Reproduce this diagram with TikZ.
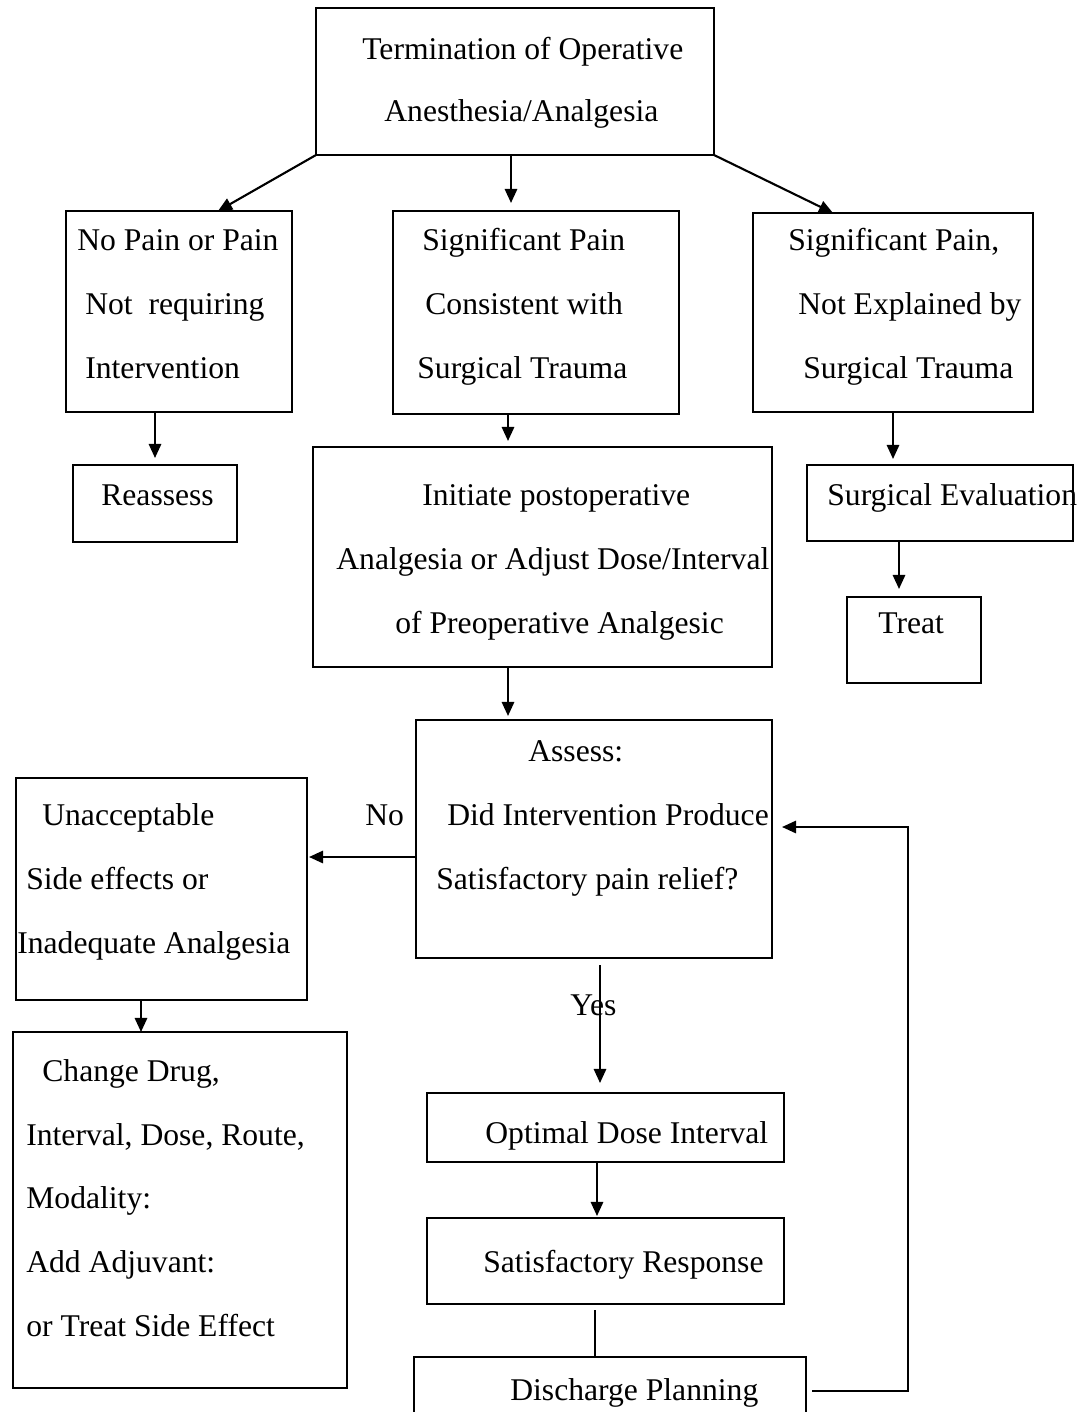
\documentclass[tikz,border=0pt]{standalone}
\usepackage{fontspec}
\setmainfont{Liberation Serif}
\usetikzlibrary{arrows.meta,calc}
\newdimen\px \px=0.02cm
\newcommand{\bx}[5]{%
  \node[boxnode, minimum width={(#4-#2)*\px}, minimum height={(#5-#3)*\px}] (#1) at ({(#2+#4)/2},{(#3+#5)/2}) {};}
\begin{document}
\begin{tikzpicture}[x=0.02cm, y=-0.02cm,
  boxnode/.style={draw=black, line width=1.1pt, inner sep=0pt, outer sep=0pt, rectangle},
  txt/.style={anchor=base west, inner sep=0pt, font=\fontsize{18}{21.6}\selectfont},
  arr/.style={line width=1.2pt, -{Triangle[length=8pt,width=7pt]}},
  plain/.style={line width=1.2pt}]
\clip (0,0) rectangle (1081,1412);
\fill[white] (0,0) rectangle (1081,1412);
% boxes
\bx{top}{316}{8}{714}{155}
\bx{L1}{66}{211}{292}{412}
\bx{M1}{393}{211}{679}{414}
\bx{R1}{753}{213}{1033}{412}
\bx{Re}{73}{465}{237}{542}
\bx{In}{313}{447}{772}{667}
\bx{SE}{807}{465}{1073}{541}
\bx{Tr}{847}{597}{981}{683}
\bx{As}{416}{720}{772}{958}
\bx{Un}{16}{778}{307}{1000}
\bx{CD}{13}{1032}{347}{1388}
\bx{Op}{427}{1093}{784}{1162}
\bx{Sa}{427}{1218}{784}{1304}
\bx{Dc}{414}{1357}{806}{1425}
% texts
\node[txt] (t1) at (362,60) {Termination of Operative};
\node[txt] (t2) at (384,122) {Anesthesia/Analgesia};
\node[txt] (l1a) at (77,251) {No Pain or Pain};
\node[txt] (l1b) at (85,315) {Not\ \ requiring};
\node[txt] (l1c) at (85,378) {Intervention};
\node[txt] (m1a) at (422,251) {Significant Pain};
\node[txt] (m1b) at (425,315) {Consistent with};
\node[txt] (m1c) at (417,378) {Surgical Trauma};
\node[txt] (r1a) at (788,251) {Significant Pain,};
\node[txt] (r1b) at (798,315) {Not Explained by};
\node[txt] (r1c) at (803,378) {Surgical Trauma};
\node[txt] (ret) at (101,505) {Reassess};
\node[txt] (ina) at (422,505) {Initiate postoperative};
\node[txt] (inb) at (336,569) {Analgesia or Adjust Dose/Interval};
\node[txt] (inc) at (395,633) {of Preoperative Analgesic};
\node[txt] (set) at (827,505) {Surgical Evaluation};
\node[txt] (trt) at (878,633) {Treat};
\node[txt] (asa) at (528,761) {Assess:};
\node[txt] (asb) at (447,825) {Did Intervention Produce};
\node[txt] (asc) at (436,889) {Satisfactory pain relief?};
\node[txt] (no) at (365,825) {No};
\node[txt] (una) at (42,825) {Unacceptable};
\node[txt] (unb) at (26,889) {Side effects or};
\node[txt] (unc) at (17,953) {Inadequate Analgesia};
\node[txt] (cda) at (42,1081) {Change Drug,};
\node[txt] (cdb) at (26,1145) {Interval, Dose, Route,};
\node[txt] (cdc) at (26,1208) {Modality:};
\node[txt] (cdd) at (26,1272) {Add Adjuvant:};
\node[txt] (cde) at (26,1336) {or Treat Side Effect};
\node[txt] (opt) at (485,1143) {Optimal Dose Interval};
\node[txt] (sat) at (483,1272) {Satisfactory Response};
\node[txt] (dct) at (510,1400) {Discharge Planning};
\node[txt] (yes) at (570,1015) {Yes};
% connectors
\draw[arr] (top.south west) -- ([xshift=152\px]L1.north west);
\draw[arr, shorten >=8\px] ([xshift=-4\px]top.south) -- ([xshift=-25\px]M1.north);
\draw[arr] (top.south east) -- ([xshift=80\px]R1.north west);
\draw[arr, shorten >=7\px] (Re.north |- L1.south) -- (Re.north);
\draw[arr, shorten >=6\px] ([xshift=-28\px]M1.south) -- ([xshift=-34.5\px]In.north);
\draw[arr, shorten >=6\px] (R1.south) -- (R1.south |- SE.north);
\draw[arr, shorten >=8\px] ([xshift=-41\px]SE.south) -- ([xshift=-15\px]Tr.north);
\draw[arr, shorten >=4\px] ([xshift=-34.5\px]In.south) -- ([xshift=-86\px]As.north);
\draw[arr, shorten >=2\px] ([yshift=-18\px]As.west) -- ([yshift=32\px]Un.east);
\draw[arr] ([xshift=-20.5\px]Un.south) -- ([xshift=-39\px]CD.north);
\draw[arr, shorten >=10\px] ([xshift=6\px,yshift=-7\px]As.south) -- ([xshift=-5.5\px]Op.north);
\draw[arr, shorten >=2\px] ([xshift=-8.5\px]Op.south) -- ([xshift=-8.5\px]Sa.north);
\draw[plain] ([xshift=-10.5\px,yshift=-6\px]Sa.south) -- ([xshift=-15\px]Dc.north);
\draw[arr, shorten >=10\px] ([xshift=6\px]Dc.east) -| ([xshift=136\px,yshift=12\px]As.east) -- ([yshift=12\px]As.east);
\end{tikzpicture}
\end{document}
